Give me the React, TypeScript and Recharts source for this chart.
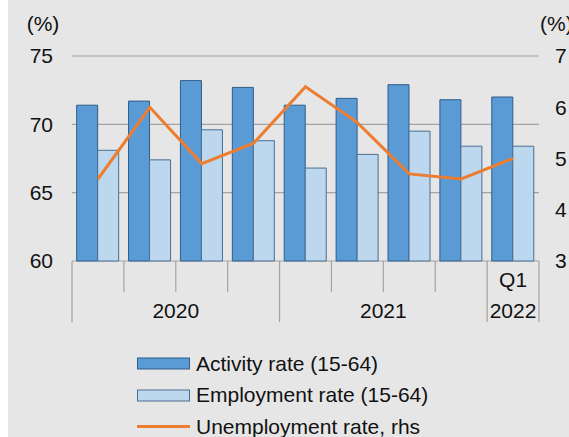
import React from "react"
import {
  ComposedChart,
  Bar,
  Line,
  XAxis,
  YAxis,
  CartesianGrid,
  Legend,
} from "recharts"

const categories = [
  "2020 Q1", "2020 Q2", "2020 Q3", "2020 Q4",
  "2021 Q1", "2021 Q2", "2021 Q3", "2021 Q4",
  "2022 Q1",
]
const quarterLabels = ["", "", "", "", "", "", "", "", "Q1"]
const years = ["2020", "2021", "2022"]
const yearSpans = [4, 4, 1]

const activityRate = [71.4, 71.7, 73.2, 72.7, 71.4, 71.9, 72.9, 71.8, 72.0]
const employmentRate = [68.1, 67.4, 69.6, 68.8, 66.8, 67.8, 69.5, 68.4, 68.4]
const unemploymentRate = [4.6, 6.0, 4.9, 5.3, 6.4, 5.7, 4.7, 4.6, 5.0]

const leftTicks = [60, 65, 70, 75]
const rightTicks = [3, 4, 5, 6, 7]

const data = categories.map((name, i) => ({
  name,
  activity: activityRate[i],
  employment: employmentRate[i],
  unemployment: unemploymentRate[i],
}))

// first category index of every year group
const yearEdges = yearSpans.reduce((acc, n) => [...acc, acc[acc.length - 1] + n], [0])

const W = 561
const H = 437
const TOP = 56
const BOTTOM = 176
const LEFT_AXIS = 64
const RIGHT_AXIS = 30
const PLOT_BOTTOM = H - BOTTOM
const BAND = (W - LEFT_AXIS - RIGHT_AXIS) / categories.length

const FONT = '"Liberation Sans", Arial, sans-serif'
const AXIS_GREY = "#a3a3a3"
const TEXT = "#111"

const tickLine = (x: number, major: boolean, key: string) => (
  <line
    key={key}
    x1={x}
    x2={x}
    y1={PLOT_BOTTOM}
    y2={PLOT_BOTTOM + (major ? 61 : 31)}
    stroke={AXIS_GREY}
    strokeWidth={1.2}
  />
)

// quarter label, group separators and year label, all from the category tick position
const CategoryTick = (p: any) => {
  const i = p.index
  const left = p.x - BAND / 2
  const yearIdx = yearEdges.indexOf(i)
  return (
    <g>
      {tickLine(left, yearIdx >= 0, "l")}
      {i === categories.length - 1 && tickLine(left + BAND, true, "r")}
      <text x={p.x} y={PLOT_BOTTOM + 26} textAnchor="middle" fontSize={21} fontFamily={FONT} fill={TEXT}>
        {quarterLabels[i]}
      </text>
      {yearIdx >= 0 && yearIdx < years.length && (
        <text
          x={left + (yearSpans[yearIdx] * BAND) / 2}
          y={PLOT_BOTTOM + 57}
          textAnchor="middle"
          fontSize={21}
          fontFamily={FONT}
          fill={TEXT}
        >
          {years[yearIdx]}
        </text>
      )}
    </g>
  )
}

const LegendBox = () => {
  const rows = [
    { label: "Activity rate (15-64)", kind: "bar", fill: "#5b9bd5", stroke: "#2f5d8a" },
    { label: "Employment rate (15-64)", kind: "bar", fill: "#bdd7ee", stroke: "#4a6e92" },
    { label: "Unemployment rate, rhs", kind: "line", fill: "#ed7d31", stroke: "#ed7d31" },
  ]
  return (
    <div style={{ fontFamily: FONT, fontSize: 21, color: TEXT }}>
      {rows.map((r) => (
        <div key={r.label} style={{ display: "flex", alignItems: "center", height: 31.5 }}>
          <svg width={53} height={13} style={{ marginRight: 6 }}>
            {r.kind === "bar" ? (
              <rect x={0.5} y={1} width={52} height={11} fill={r.fill} stroke={r.stroke} />
            ) : (
              <line x1={0} x2={53} y1={6.5} y2={6.5} stroke={r.stroke} strokeWidth={3} />
            )}
          </svg>
          <span>{r.label}</span>
        </div>
      ))}
    </div>
  )
}

export default function App() {
  return (
    <div style={{ position: "absolute", left: 8, top: 0, width: W, height: H, background: "#e6e6e6" }}>
      <ComposedChart
        width={W}
        height={H}
        data={data}
        margin={{ top: TOP, right: 0, bottom: BOTTOM - 1, left: 0 }}
        barCategoryGap="9%"
        barGap={0}
      >
        <CartesianGrid yAxisId="left" xAxisId="cat" vertical={false} stroke={AXIS_GREY} strokeWidth={1.2} />
        <XAxis
          xAxisId="cat"
          dataKey="name"
          interval={0}
          height={1}
          tickSize={0}
          tickMargin={0}
          axisLine={false}
          tickLine={false}
          tick={CategoryTick}
        />
        <YAxis
          yAxisId="left"
          width={LEFT_AXIS}
          domain={[60, 75]}
          ticks={leftTicks}
          interval={0}
          axisLine={false}
          tickLine={false}
          tickSize={0}
          tickMargin={19}
          tick={{ fontSize: 21, fontFamily: FONT, fill: TEXT }}
          label={(props: any) => (
            <text
              x={props.viewBox.x + props.viewBox.width - 29}
              y={props.viewBox.y - 25}
              textAnchor="middle"
              fontSize={21}
              fontFamily={FONT}
              fill={TEXT}
            >
              (%)
            </text>
          )}
        />
        <YAxis
          yAxisId="right"
          orientation="right"
          width={RIGHT_AXIS}
          domain={[3, 7]}
          ticks={rightTicks}
          interval={0}
          axisLine={false}
          tickLine={false}
          tickSize={0}
          tickMargin={16}
          tick={{ fontSize: 21, fontFamily: FONT, fill: TEXT }}
          label={(props: any) => (
            <text
              x={props.viewBox.x + 1}
              y={props.viewBox.y - 25}
              textAnchor="start"
              fontSize={21}
              fontFamily={FONT}
              fill={TEXT}
            >
              (%)
            </text>
          )}
        />
        <Bar
          xAxisId="cat"
          yAxisId="left"
          dataKey="activity"
          name="Activity rate (15-64)"
          fill="#5b9bd5"
          stroke="#2f5d8a"
          strokeWidth={1}
          isAnimationActive={false}
        />
        <Bar
          xAxisId="cat"
          yAxisId="left"
          dataKey="employment"
          name="Employment rate (15-64)"
          fill="#bdd7ee"
          stroke="#4a6e92"
          strokeWidth={1}
          isAnimationActive={false}
        />
        <Line
          xAxisId="cat"
          yAxisId="right"
          dataKey="unemployment"
          name="Unemployment rate, rhs"
          type="linear"
          stroke="#ed7d31"
          strokeWidth={3}
          dot={false}
          isAnimationActive={false}
        />
        <Legend
          layout="vertical"
          align="center"
          verticalAlign="middle"
          content={LegendBox}
          wrapperStyle={{ left: 129, top: 348, width: 320 }}
        />
      </ComposedChart>
    </div>
  )
}
